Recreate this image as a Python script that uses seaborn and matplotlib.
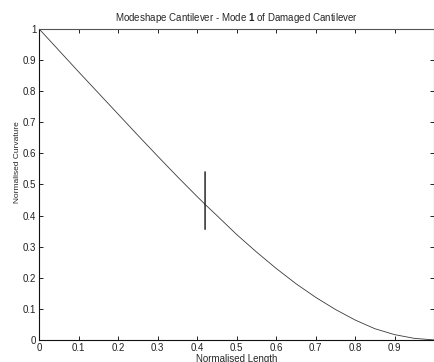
import numpy as np
import pandas as pd
import seaborn as sns
from matplotlib import pyplot as plt

# values (normalised length vs normalised curvature)
length = [0.0, 0.05, 0.1, 0.15, 0.2, 0.25, 0.3, 0.35, 0.4, 0.42,
          0.42, 0.42, 0.42, 0.45, 0.5, 0.55, 0.6, 0.65, 0.7, 0.75,
          0.8, 0.85, 0.9, 0.95, 1.0]
curvature = [1.0, 0.931, 0.862, 0.794, 0.726, 0.658, 0.591, 0.525, 0.461, 0.436,
             0.541, 0.355, 0.436, 0.400, 0.339, 0.283, 0.230, 0.181, 0.137, 0.098,
             0.064, 0.036, 0.017, 0.005, 0.0]

x_ticks = [0, 0.1, 0.2, 0.3, 0.4, 0.5, 0.6, 0.7, 0.8, 0.9, 1.0]
x_tick_labels = ['0', '0.1', '0.2', '0.3', '0.4', '0.5', '0.6', '0.7', '0.8', '0.9', '']
y_ticks = [0, 0.1, 0.2, 0.3, 0.4, 0.5, 0.6, 0.7, 0.8, 0.9, 1.0]
y_tick_labels = ['0', '0.1', '0.2', '0.3', '0.4', '0.5', '0.6', '0.7', '0.8', '0.9', '1']

df = pd.DataFrame({'Normalised Length': length, 'Normalised Curvature': curvature})

sns.set_style('ticks')
plt.rcParams['font.family'] = ['Liberation Sans', 'DejaVu Sans']
plt.rcParams['mathtext.fontset'] = 'custom'
plt.rcParams['mathtext.rm'] = 'Liberation Sans'
plt.rcParams['mathtext.bf'] = 'Liberation Sans:bold'

fig = plt.figure(figsize=(4.35, 3.62), dpi=100)
ax = fig.add_axes([0.09, 0.061, 0.908, 0.859])

sns.lineplot(data=df, x='Normalised Length', y='Normalised Curvature', sort=False,
             estimator=None, color='#3a3a3a', linewidth=0.6, ax=ax)

ax.set_xlim(0, 1)
ax.set_ylim(0, 1)
ax.set_xticks(x_ticks)
ax.set_xticklabels(x_tick_labels)
ax.set_yticks(y_ticks)
ax.set_yticklabels(y_tick_labels)
ax.tick_params(direction='in', length=3, width=0.7, labelsize=7, top=True, right=True,
               colors='#222222', pad=2)
for side in ['top', 'right', 'bottom', 'left']:
    ax.spines[side].set_visible(True)
    ax.spines[side].set_linewidth(0.8)
    ax.spines[side].set_color('#555555')
ax.spines['left'].set_color('#111111')
ax.spines['bottom'].set_color('#111111')

ax.set_title(r'Modeshape Cantilever - Mode $\mathbf{1}$ of Damaged Cantilever',
             fontsize=7, pad=6)
ax.set_xlabel('Normalised Length', fontsize=7, labelpad=1)
ax.set_ylabel('Normalised Curvature', fontsize=6)
ax.yaxis.set_label_coords(-0.045, 0.572)

fig.savefig('out.png', dpi=100)
